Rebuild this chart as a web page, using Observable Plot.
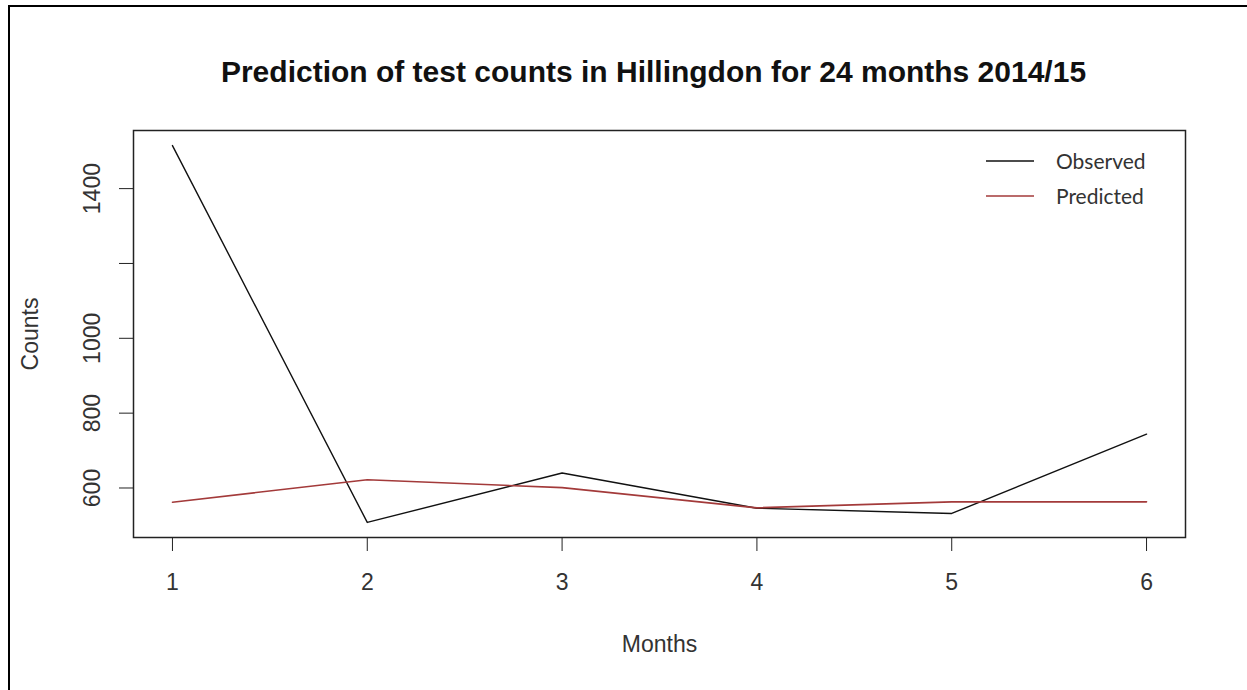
<!DOCTYPE html>
<html>
<head>
<meta charset="utf-8">
<script src="https://cdn.jsdelivr.net/npm/d3@7"></script>
<script src="https://cdn.jsdelivr.net/npm/@observablehq/plot@0.6"></script>
<style>
  html, body { margin: 0; padding: 0; background: #fff; }
  #wrap { position: relative; width: 1247px; height: 690px; overflow: hidden; }
  #legend { position: absolute; left: 986px; top: 143px; font-family: Lato, "Open Sans", sans-serif; font-size: 21px; color: #333; }
  #legend .row { display: flex; align-items: center; height: 35px; }
  #legend svg { margin-right: 22px; }
</style>
</head>
<body>
<div id="wrap"></div>
<script>
// Monthly test counts, Hillingdon
const months = [1, 2, 3, 4, 5, 6];
const observed = [1515, 508, 640, 546, 532, 744];
const predicted = [562, 622, 601, 547, 563, 563];
const yTicks = [600, 800, 1000, 1200, 1400];
const seriesNames = ["Observed", "Predicted"];
const seriesColors = ["#111111", "#a33a3a"];

const obsRows = months.map((m, i) => ({month: m, value: observed[i]}));
const predRows = months.map((m, i) => ({month: m, value: predicted[i]}));

// base-graphics style axis limits: data range padded by 4% each side
const all = observed.concat(predicted);
const [lo, hi] = d3.extent(all);
const pad = (hi - lo) * 0.04;
const [xlo, xhi] = d3.extent(months);
const xpad = (xhi - xlo) * 0.04;

// page border (left and top edges)
const pageBorder = (index, scales, values, dims) => {
  const p = document.createElementNS("http://www.w3.org/2000/svg", "path");
  p.setAttribute("d", `M9,${dims.height} V6 H${dims.width}`);
  p.setAttribute("fill", "none");
  p.setAttribute("stroke", "#000");
  p.setAttribute("stroke-width", "2");
  return p;
};

const chart = Plot.plot({
  width: 1247,
  height: 690,
  marginLeft: 133,
  marginRight: 62,
  marginTop: 130,
  marginBottom: 153,
  style: {fontFamily: "'Liberation Sans', Arial, sans-serif", background: "#fff", color: "#222"},
  x: {domain: [xlo - xpad, xhi + xpad]},
  y: {domain: [lo - pad, hi + pad]},
  marks: [
    pageBorder,
    Plot.frame({stroke: "#222", strokeWidth: 1.5}),
    Plot.axisX({ticks: months, tickSize: 14, tickPadding: 22, fontSize: 23, fill: "#333",
      tickFormat: d => String(d), label: "Months", labelAnchor: "center", labelArrow: "none", labelOffset: 114}),
    Plot.axisY({ticks: yTicks, tickSize: 14, tickPadding: 20, tickRotate: -90, fontSize: 23, fill: "#333",
      tickFormat: d => d === 1200 ? "" : String(d), label: "Counts", labelAnchor: "center", labelArrow: "none", labelOffset: 112}),
    Plot.line(obsRows, {x: "month", y: "value", stroke: seriesColors[0], strokeWidth: 1.4}),
    Plot.line(predRows, {x: "month", y: "value", stroke: seriesColors[1], strokeWidth: 1.6}),
    Plot.text(["Prediction of test counts in Hillingdon for 24 months 2014/15"], {
      frameAnchor: "top", dx: -6, dy: -70, fontSize: 30, fontWeight: "bold", fill: "#111"
    })
  ]
});
document.getElementById("wrap").appendChild(chart);

// legend
const legend = document.createElement("div");
legend.id = "legend";
seriesNames.forEach((name, i) => {
  const row = document.createElement("div");
  row.className = "row";
  row.innerHTML = `<svg width="48" height="4"><line x1="0" y1="2" x2="48" y2="2" stroke="${seriesColors[i]}" stroke-width="1.5"/></svg><span>${name}</span>`;
  legend.appendChild(row);
});
document.getElementById("wrap").appendChild(legend);
</script>
</body>
</html>
